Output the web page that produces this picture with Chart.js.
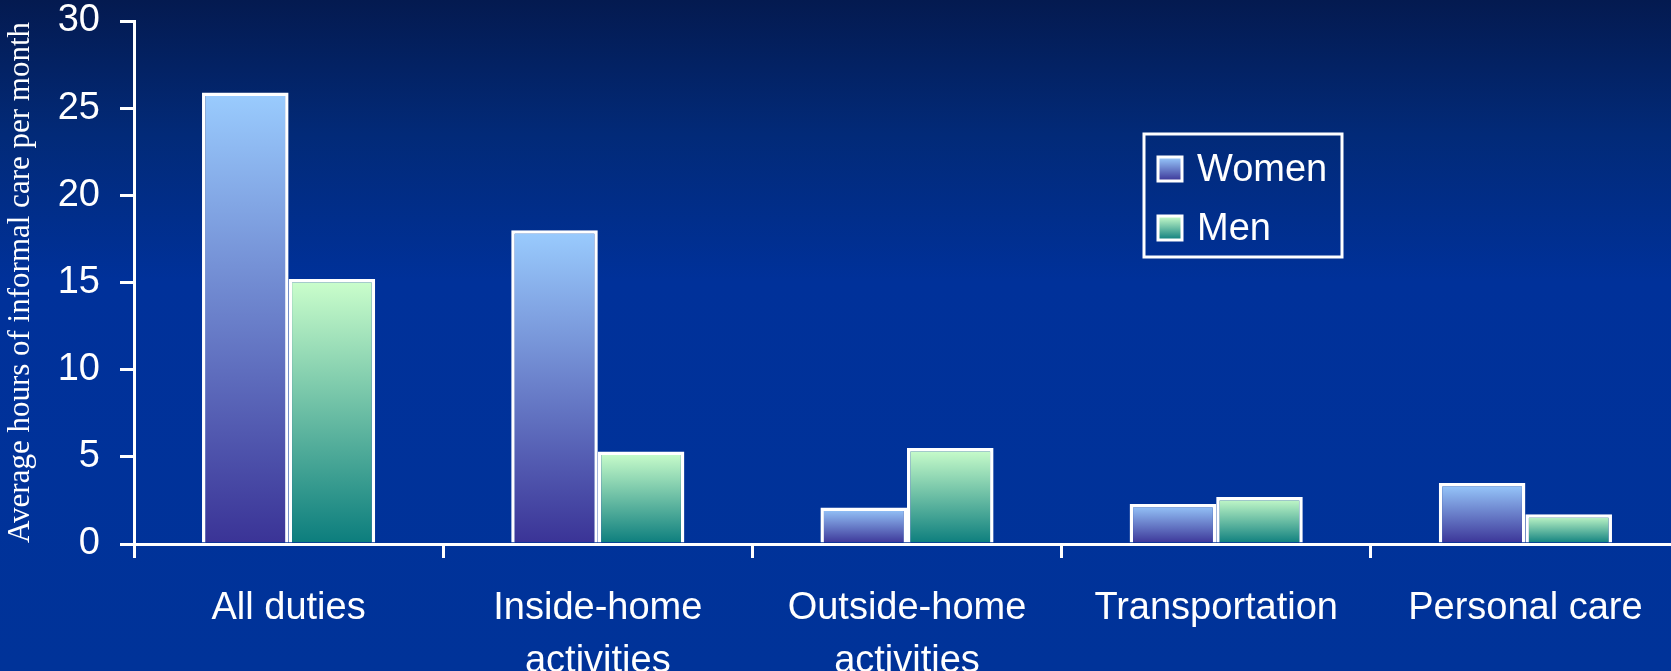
<!DOCTYPE html>
<html>
<head>
<meta charset="utf-8">
<script src="https://cdn.jsdelivr.net/npm/chart.js@4/dist/chart.umd.min.js"></script>
<style>
  html, body { margin: 0; padding: 0; overflow: hidden; width: 1671px; height: 671px; }
  body {
    background: linear-gradient(to bottom, #041a50 0%, #022a78 20%, #00319a 42%, #003399 100%);
  }
  #wrap { position: relative; width: 1680px; height: 700px; }
</style>
</head>
<body>
<div id="wrap"><canvas id="careChart"></canvas></div>
<script>
  // chart data
  const categories = ['All duties', ['Inside-home', 'activities'], ['Outside-home', 'activities'], 'Transportation', 'Personal care'];
  const women = [25.9, 18.0, 2.1, 2.3, 3.5];
  const men = [15.2, 5.3, 5.5, 2.7, 1.7];
  const yTicks = [0, 5, 10, 15, 20, 25, 30];

  const colors = {
    womenTop: '#9accfe',
    womenBottom: '#3a3396',
    menTop: '#ccffcc',
    menBottom: '#0b7d7d',
    line: '#ffffff',
  };

  // vertical gradient spanning each bar, light at top, dark at the base
  function barFill(top, bottom) {
    return ctx => {
      const chart = ctx.chart;
      const y = chart.scales.y;
      if (!y || ctx.raw == null || !chart.chartArea) return top;
      const y0 = y.getPixelForValue(0);
      const y1 = y.getPixelForValue(ctx.raw);
      const g = chart.ctx.createLinearGradient(0, y1, 0, y0);
      g.addColorStop(0, top);
      g.addColorStop(1, bottom);
      return g;
    };
  }

  // legend box drawn inside the plot, top right
  const boxLegend = {
    id: 'boxLegend',
    afterDraw(chart) {
      const c = chart.ctx;
      const x = 1144, y = 134, w = 198, h = 123;
      c.save();
      c.strokeStyle = colors.line;
      c.lineWidth = 3;
      c.strokeRect(x, y, w, h);
      const items = [
        { label: chart.data.datasets[0].label, top: colors.womenTop, bottom: colors.womenBottom, cy: 169 },
        { label: chart.data.datasets[1].label, top: colors.menTop, bottom: colors.menBottom, cy: 228 },
      ];
      c.font = '38px "Liberation Sans", Arial, sans-serif';
      c.textBaseline = 'middle';
      for (const it of items) {
        const g = c.createLinearGradient(0, it.cy - 12, 0, it.cy + 12);
        g.addColorStop(0, it.top);
        g.addColorStop(1, it.bottom);
        c.fillStyle = g;
        c.fillRect(1158, it.cy - 12, 24, 24);
        c.lineWidth = 3;
        c.strokeRect(1158, it.cy - 12, 24, 24);
        c.fillStyle = colors.line;
        c.fillText(it.label, 1197, it.cy + 2);
      }
      c.restore();
    }
  };

  new Chart(document.getElementById('careChart'), {
    type: 'bar',
    data: {
      labels: categories,
      datasets: [
        {
          label: 'Women',
          data: women,
          backgroundColor: barFill(colors.womenTop, colors.womenBottom),
          borderColor: colors.line,
          borderWidth: 3.5,
          categoryPercentage: 0.56,
          barPercentage: 1.0,
        },
        {
          label: 'Men',
          data: men,
          backgroundColor: barFill(colors.menTop, colors.menBottom),
          borderColor: colors.line,
          borderWidth: 3.5,
          categoryPercentage: 0.56,
          barPercentage: 1.0,
        },
      ]
    },
    options: {
      responsive: true,
      maintainAspectRatio: false,
      animation: false,
      layout: { padding: { top: 21, right: 0, bottom: 0, left: 0 } },
      plugins: { legend: { display: false }, tooltip: { enabled: false } },
      scales: {
        x: {
          grid: { drawOnChartArea: false, drawTicks: true, tickLength: 14, color: colors.line, lineWidth: 3 },
          border: { display: true, color: colors.line, width: 3 },
          ticks: {
            color: colors.line,
            padding: 24,
            maxRotation: 0,
            autoSkip: false,
            font: { family: '"Liberation Sans", Arial, sans-serif', size: 38, lineHeight: 1.4 },
          },
          afterFit: s => { s.height = 156; },
        },
        y: {
          min: 0,
          max: 30,
          afterBuildTicks: s => { s.ticks = yTicks.map(v => ({ value: v })); },
          grid: { drawOnChartArea: false, drawTicks: true, tickLength: 14, color: colors.line, lineWidth: 3 },
          border: { display: true, color: colors.line, width: 3 },
          ticks: {
            color: colors.line,
            padding: 20,
            font: { family: '"Liberation Sans", Arial, sans-serif', size: 38 },
          },
          title: {
            display: true,
            text: 'Average hours of informal care per month',
            color: colors.line,
            padding: { top: 2, bottom: 0 },
            font: { family: '"Liberation Serif", "Times New Roman", serif', size: 31 },
          },
          afterFit: s => { s.width = 134; s.paddingTop = 0; s.paddingBottom = 0; },
        }
      }
    },
    plugins: [boxLegend]
  });
</script>
</body>
</html>
